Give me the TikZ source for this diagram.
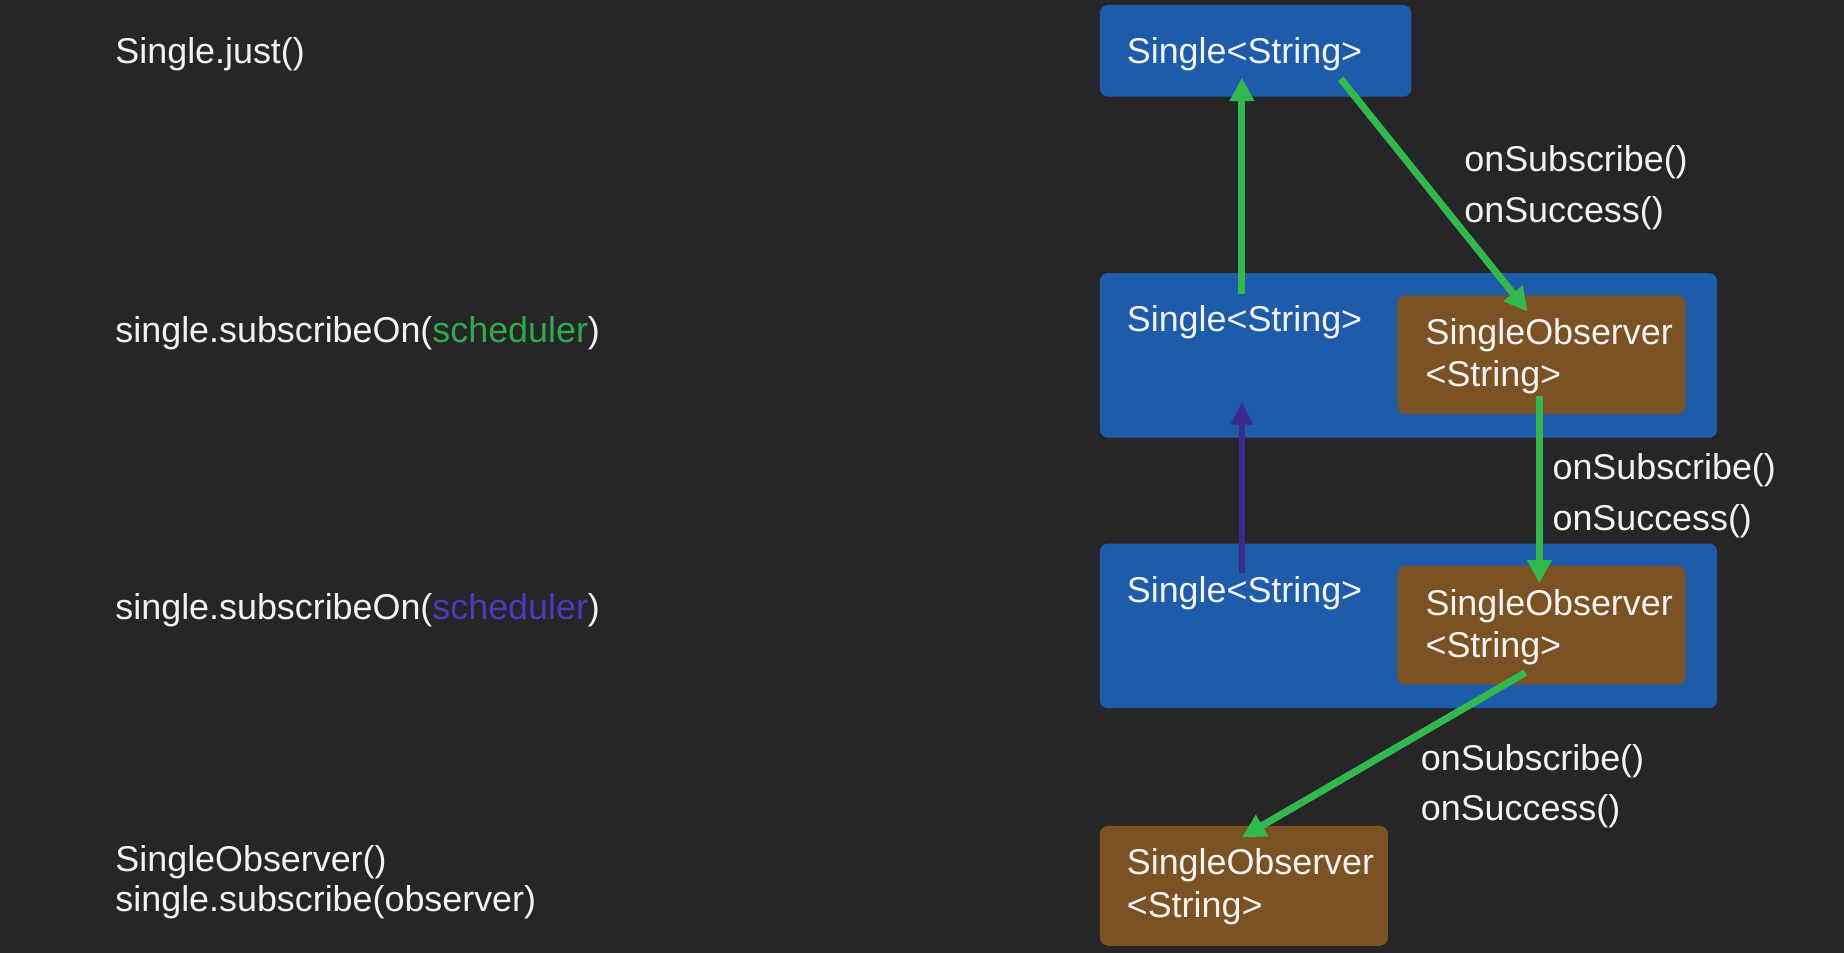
\documentclass[tikz,border=0pt]{standalone}
\usepackage{fontspec}
\setmainfont{Liberation Sans}
\usetikzlibrary{arrows.meta}
\definecolor{bgc}{HTML}{262628}
\definecolor{boxblue}{HTML}{1E5BA8}
\definecolor{boxbrown}{HTML}{7A5224}
\definecolor{arrgreen}{HTML}{33B84D}
\definecolor{arrpurple}{HTML}{3A2B8C}
\definecolor{txtgreen}{HTML}{2EAA4A}
\definecolor{txtpurple}{HTML}{4B3CBE}
\definecolor{txtwhite}{HTML}{F2F2F2}
\tikzset{
  bluebox/.style={fill=boxblue, rounded corners=7pt, inner sep=0pt, anchor=north west},
  brownbox/.style={fill=boxbrown, rounded corners=7pt, inner sep=0pt, anchor=north west},
  txt/.style={text=txtwhite, inner sep=0pt, anchor=base west, font=\fontsize{30.5}{36}\selectfont},
  garrow/.style={draw=arrgreen, line width=6pt, -{Triangle[length=20pt,width=20pt]}},
  parrow/.style={draw=arrpurple, line width=5pt, -{Triangle[length=19pt,width=18pt]}}
}
\begin{document}
\begin{tikzpicture}[x=1pt,y=-1pt]
\fill[bgc] (0,0) rectangle (1568,810);
\useasboundingbox (0,0) rectangle (1568,810);

% left code column
\node[txt] (c1) at (98,54) {Single.just()};
\node[txt] (c2) at (98,291) {single.subscribeOn(\textcolor{txtgreen}{scheduler})};
\node[txt] (c3) at (98,527) {single.subscribeOn(\textcolor{txtpurple}{scheduler})};
\node[txt] (c4) at (98,741) {SingleObserver()};
\node[txt] (c5) at (98,775) {single.subscribe(observer)};

% boxes
\node[bluebox, minimum width=265pt, minimum height=78pt] (b1) at (935,4) {};
\node[bluebox, minimum width=525pt, minimum height=140pt] (b2) at (935,232) {};
\node[brownbox, minimum width=245pt, minimum height=101pt] (o2) at (1188,251) {};
\node[bluebox, minimum width=525pt, minimum height=140pt] (b3) at (935,462) {};
\node[brownbox, minimum width=245pt, minimum height=101pt] (o3) at (1188,481) {};
\node[brownbox, minimum width=245pt, minimum height=102pt] (o4) at (935,702) {};

% box texts
\node[txt] (s1) at (958,54) {Single<String>};
\node[txt] (s2) at (958,282) {Single<String>};
\node[txt] (s3) at (958,512) {Single<String>};
\node[txt] (so2a) at (1212,293) {SingleObserver};
\node[txt] (so2b) at (1212,329) {<String>};
\node[txt] (so3a) at (1212,523) {SingleObserver};
\node[txt] (so3b) at (1212,559) {<String>};
\node[txt] (so4a) at (958,744) {SingleObserver};
\node[txt] (so4b) at (958,780) {<String>};

% labels
\node[txt] (l1a) at (1245,146) {onSubscribe()};
\node[txt] (l1b) at (1245,189) {onSuccess()};
\node[txt] (l2a) at (1320,408) {onSubscribe()};
\node[txt] (l2b) at (1320,451) {onSuccess()};
\node[txt] (l3a) at (1208,655) {onSubscribe()};
\node[txt] (l3b) at (1208,698) {onSuccess()};

% arrow end points
\coordinate (upS) at (1056,250);
\coordinate (upE) at (1056,66);
\coordinate (d1S) at (1140,67);
\coordinate (d1E) at (1299,265);
\coordinate (pS) at (1056,487);
\coordinate (pE) at (1056,342);
\coordinate (vS) at (1309,337);
\coordinate (vE) at (1309,496);
\coordinate (d2S) at (1297,572);
\coordinate (d2E) at (1056,712);

\draw[garrow] (upS) -- (upE);
\draw[garrow] (d1S) -- (d1E);
\draw[parrow] (pS) -- (pE);
\draw[garrow] (vS) -- (vE);
\draw[garrow] (d2S) -- (d2E);
\end{tikzpicture}
\end{document}
